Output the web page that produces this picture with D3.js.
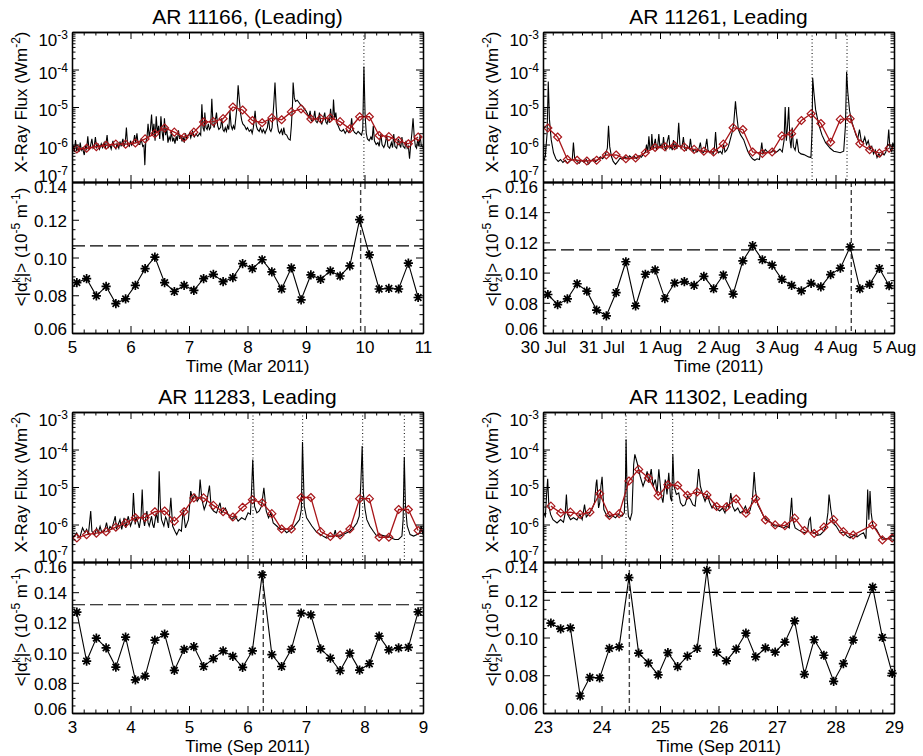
<!DOCTYPE html>
<html>
<head>
<meta charset="utf-8">
<script src="https://cdn.jsdelivr.net/npm/d3@7"></script>
<style>
body { margin:0; background:#fff; }
svg { font-family: "Liberation Sans", Arial, Helvetica, sans-serif; }
</style>
</head>
<body>
<script>
// ---- data ----
var titles = ['AR 11166, (Leading)', 'AR 11261, Leading', 'AR 11283, Leading', 'AR 11302, Leading'];
var xTitles = ['Time (Mar 2011)', 'Time (2011)', 'Time (Sep 2011)', 'Time (Sep 2011)'];
var xLabels11166 = ['5', '6', '7', '8', '9', '10', '11'];
var xLabels11261 = ['30 Jul', '31 Jul', '1 Aug', '2 Aug', '3 Aug', '4 Aug', '5 Aug'];
var xLabels11283 = ['3', '4', '5', '6', '7', '8', '9'];
var xLabels11302 = ['23', '24', '25', '26', '27', '28', '29'];
var fluxTicks = [1e-7, 1e-6, 1e-5, 1e-4, 1e-3];

// GOES flux, [days from panel start, log10 W m^-2]
var flux11166 = [[0.00,-6.25],[0.02,-6.02],[0.04,-6.2],[0.06,-5.88],[0.08,-6.18],[0.10,-6.08],[0.12,-6.2],[0.14,-5.95],[0.16,-6.15],[0.18,-6.1],[0.21,-6.28],[0.23,-6.05],[0.25,-6.12],[0.27,-5.78],[0.29,-6.12],[0.31,-6.08],[0.34,-5.85],[0.36,-6.1],[0.38,-6.05],[0.40,-5.8],[0.42,-6.08],[0.45,-6.0],[0.47,-6.12],[0.50,-5.98],[0.52,-6.08],[0.55,-5.95],[0.57,-6.1],[0.60,-5.75],[0.62,-6.08],[0.65,-6.02],[0.67,-6.12],[0.70,-5.9],[0.72,-6.05],[0.75,-6.12],[0.77,-5.98],[0.80,-6.1],[0.82,-5.92],[0.84,-6.05],[0.87,-5.85],[0.89,-6.05],[0.91,-5.95],[0.93,-5.55],[0.95,-6.0],[0.98,-6.05],[1.00,-5.9],[1.02,-6.02],[1.05,-5.95],[1.07,-5.75],[1.09,-5.95],[1.11,-5.7],[1.13,-5.98],[1.16,-6.0],[1.18,-5.85],[1.21,-6.05],[1.23,-6.02],[1.245,-6.55],[1.26,-5.95],[1.28,-5.85],[1.30,-5.45],[1.32,-5.8],[1.34,-5.6],[1.36,-5.2],[1.38,-5.75],[1.40,-5.45],[1.42,-5.9],[1.44,-5.25],[1.46,-5.7],[1.48,-5.5],[1.50,-5.85],[1.52,-5.25],[1.54,-5.65],[1.56,-5.9],[1.58,-5.3],[1.60,-5.75],[1.62,-5.55],[1.64,-5.95],[1.66,-5.8],[1.68,-5.88],[1.70,-5.65],[1.72,-5.92],[1.74,-5.82],[1.76,-5.98],[1.78,-5.78],[1.80,-5.9],[1.82,-5.62],[1.84,-5.85],[1.86,-5.75],[1.88,-5.92],[1.90,-5.8],[1.92,-5.95],[1.94,-5.7],[1.96,-5.85],[1.98,-5.78],[2.01,-5.7],[2.03,-5.82],[2.06,-5.65],[2.09,-5.8],[2.12,-5.72],[2.15,-5.78],[2.18,-5.7],[2.20,-5.75],[2.22,-4.93],[2.24,-5.55],[2.26,-5.65],[2.27,-5.15],[2.29,-5.55],[2.31,-5.6],[2.33,-5.45],[2.35,-5.6],[2.37,-5.55],[2.39,-4.78],[2.41,-5.45],[2.43,-5.55],[2.45,-5.35],[2.47,-5.15],[2.49,-5.5],[2.51,-5.6],[2.54,-5.55],[2.56,-5.3],[2.58,-5.6],[2.60,-5.65],[2.62,-5.55],[2.64,-5.65],[2.66,-5.5],[2.68,-5.6],[2.70,-5.1],[2.72,-5.5],[2.74,-5.6],[2.76,-5.5],[2.78,-5.6],[2.80,-5.3],[2.82,-5.0],[2.84,-4.42],[2.86,-4.8],[2.88,-5.15],[2.90,-5.35],[2.92,-5.45],[2.95,-5.5],[2.98,-5.6],[3.00,-5.55],[3.03,-5.65],[3.06,-5.6],[3.08,-5.7],[3.10,-5.55],[3.13,-5.1],[3.15,-5.5],[3.17,-5.6],[3.20,-5.65],[3.22,-5.55],[3.25,-5.68],[3.27,-5.6],[3.30,-5.7],[3.32,-5.62],[3.34,-5.55],[3.36,-5.3],[3.38,-5.6],[3.40,-5.65],[3.42,-5.55],[3.45,-4.9],[3.47,-4.35],[3.49,-5.0],[3.51,-5.45],[3.53,-5.65],[3.55,-5.7],[3.58,-5.6],[3.60,-5.75],[3.62,-5.55],[3.64,-5.72],[3.67,-5.75],[3.70,-5.85],[3.73,-5.88],[3.75,-5.5],[3.77,-4.9],[3.78,-4.35],[3.80,-4.75],[3.82,-4.85],[3.85,-4.82],[3.88,-4.88],[3.91,-4.95],[3.94,-4.98],[3.97,-5.05],[4.00,-5.1],[4.03,-5.2],[4.05,-5.28],[4.07,-5.1],[4.09,-5.35],[4.11,-5.38],[4.13,-5.3],[4.15,-5.1],[4.17,-5.38],[4.19,-5.42],[4.21,-5.35],[4.23,-5.15],[4.25,-5.4],[4.27,-5.45],[4.29,-5.35],[4.32,-5.15],[4.34,-5.4],[4.36,-5.45],[4.38,-5.3],[4.40,-5.42],[4.42,-5.05],[4.44,-5.35],[4.46,-5.2],[4.47,-4.8],[4.49,-5.3],[4.51,-5.15],[4.53,-5.45],[4.55,-5.5],[4.58,-5.62],[4.61,-5.65],[4.64,-5.6],[4.67,-5.7],[4.70,-5.62],[4.73,-5.68],[4.76,-5.6],[4.78,-5.3],[4.80,-5.6],[4.83,-5.68],[4.86,-5.72],[4.89,-5.65],[4.92,-5.7],[4.95,-5.75],[4.97,-5.6],[4.99,-3.92],[5.01,-5.2],[5.03,-5.7],[5.05,-5.85],[5.08,-5.9],[5.11,-5.8],[5.13,-5.88],[5.15,-5.5],[5.17,-5.9],[5.20,-6.0],[5.23,-5.95],[5.25,-6.05],[5.28,-5.72],[5.30,-6.0],[5.33,-6.08],[5.35,-6.0],[5.38,-5.75],[5.40,-6.05],[5.43,-6.1],[5.46,-5.95],[5.48,-6.08],[5.50,-5.72],[5.52,-6.05],[5.55,-6.1],[5.58,-5.85],[5.60,-6.0],[5.62,-6.08],[5.64,-5.8],[5.66,-6.05],[5.69,-6.1],[5.71,-5.9],[5.73,-6.1],[5.75,-6.05],[5.77,-6.38],[5.79,-6.0],[5.81,-5.7],[5.83,-5.3],[5.85,-5.8],[5.87,-6.05],[5.89,-6.1],[5.91,-5.85],[5.93,-6.05],[5.95,-5.75],[5.97,-6.02],[6.00,-6.08]];
var flux11261 = [[0.00,-6.49],[0.04,-6.31],[0.07,-5.7],[0.09,-4.32],[0.11,-5.33],[0.14,-5.87],[0.18,-6.22],[0.22,-6.38],[0.26,-6.45],[0.30,-6.4],[0.34,-6.48],[0.38,-6.42],[0.42,-6.5],[0.46,-6.44],[0.50,-6.4],[0.52,-5.95],[0.54,-6.35],[0.58,-6.45],[0.62,-6.5],[0.66,-6.42],[0.70,-6.47],[0.74,-6.4],[0.78,-6.52],[0.82,-6.44],[0.86,-6.38],[0.90,-6.46],[0.94,-6.4],[0.98,-6.33],[1.02,-6.38],[1.06,-6.3],[1.10,-6.1],[1.12,-5.5],[1.14,-6.05],[1.17,-6.32],[1.20,-6.45],[1.24,-6.53],[1.28,-6.45],[1.32,-6.36],[1.36,-6.4],[1.40,-6.33],[1.44,-6.38],[1.48,-6.3],[1.52,-6.36],[1.56,-6.32],[1.60,-6.38],[1.64,-6.3],[1.68,-6.34],[1.72,-6.25],[1.75,-6.2],[1.77,-6.0],[1.79,-6.22],[1.81,-5.78],[1.83,-6.15],[1.85,-6.05],[1.86,-5.72],[1.88,-6.12],[1.90,-6.0],[1.92,-5.85],[1.94,-6.15],[1.96,-6.05],[1.98,-5.72],[2.00,-6.1],[2.02,-6.0],[2.04,-6.12],[2.06,-5.8],[2.08,-6.08],[2.10,-6.15],[2.12,-5.95],[2.15,-5.75],[2.17,-6.1],[2.19,-6.05],[2.21,-6.15],[2.23,-5.88],[2.25,-6.1],[2.27,-6.0],[2.29,-6.12],[2.32,-5.42],[2.34,-6.0],[2.36,-6.1],[2.38,-6.02],[2.40,-5.8],[2.42,-6.1],[2.45,-6.15],[2.47,-6.05],[2.50,-6.12],[2.52,-5.85],[2.54,-6.1],[2.57,-6.18],[2.60,-6.12],[2.63,-6.2],[2.66,-6.15],[2.69,-5.95],[2.71,-6.18],[2.74,-6.22],[2.77,-6.15],[2.80,-5.85],[2.82,-6.15],[2.85,-6.22],[2.88,-6.18],[2.91,-6.25],[2.93,-6.1],[2.95,-5.67],[2.97,-6.12],[3.00,-6.22],[3.03,-6.18],[3.06,-6.25],[3.09,-6.0],[3.11,-6.2],[3.14,-6.15],[3.17,-6.05],[3.20,-5.87],[3.23,-5.7],[3.26,-5.45],[3.29,-4.85],[3.31,-5.2],[3.34,-5.6],[3.38,-5.75],[3.43,-5.87],[3.47,-6.05],[3.50,-6.18],[3.54,-6.3],[3.58,-6.38],[3.62,-6.42],[3.66,-6.38],[3.70,-6.4],[3.72,-6.2],[3.74,-5.95],[3.76,-6.25],[3.80,-6.13],[3.84,-6.2],[3.89,-6.22],[3.93,-6.15],[3.97,-6.22],[4.01,-6.18],[4.05,-6.12],[4.09,-6.2],[4.12,-5.9],[4.14,-5.0],[4.16,-5.9],[4.18,-5.5],[4.20,-5.0],[4.22,-5.85],[4.24,-6.1],[4.26,-5.55],[4.28,-6.05],[4.31,-6.15],[4.34,-5.85],[4.37,-6.2],[4.41,-6.25],[4.46,-6.27],[4.50,-6.3],[4.54,-6.33],[4.58,-6.35],[4.60,-5.6],[4.61,-4.22],[4.63,-4.6],[4.66,-5.07],[4.71,-5.45],[4.77,-5.75],[4.83,-5.95],[4.91,-6.1],[4.97,-6.18],[5.03,-6.2],[5.08,-6.22],[5.14,-6.18],[5.17,-5.5],[5.19,-4.06],[5.21,-4.6],[5.24,-5.1],[5.28,-5.4],[5.31,-5.55],[5.35,-5.75],[5.38,-5.85],[5.41,-5.6],[5.44,-5.9],[5.47,-5.95],[5.50,-5.8],[5.53,-6.0],[5.56,-5.9],[5.59,-6.12],[5.62,-6.05],[5.65,-6.25],[5.68,-6.15],[5.71,-6.35],[5.74,-6.25],[5.77,-6.32],[5.80,-6.22],[5.83,-6.28],[5.86,-6.2],[5.89,-6.0],[5.91,-5.6],[5.93,-6.1],[5.96,-6.18],[5.98,-5.95],[6.00,-6.05]];
var flux11283 = [[0.00,-6.36],[0.04,-6.3],[0.08,-6.22],[0.11,-6.35],[0.14,-6.31],[0.18,-6.09],[0.22,-6.22],[0.25,-6.13],[0.28,-6.27],[0.32,-5.64],[0.34,-6.18],[0.39,-6.27],[0.42,-6.1],[0.45,-6.22],[0.48,-6.05],[0.51,-6.22],[0.56,-6.15],[0.59,-5.95],[0.62,-6.18],[0.65,-6.05],[0.68,-6.12],[0.71,-5.95],[0.74,-5.78],[0.76,-6.13],[0.79,-6.0],[0.82,-5.87],[0.85,-6.13],[0.89,-5.82],[0.92,-6.09],[0.96,-5.78],[1.00,-6.04],[1.03,-5.9],[1.05,-5.16],[1.08,-6.0],[1.10,-5.82],[1.13,-5.95],[1.15,-6.09],[1.18,-5.8],[1.20,-5.07],[1.22,-5.85],[1.24,-6.04],[1.28,-5.64],[1.30,-5.95],[1.32,-6.04],[1.36,-5.78],[1.38,-6.0],[1.40,-6.09],[1.44,-5.69],[1.47,-5.96],[1.49,-4.58],[1.51,-5.5],[1.53,-5.87],[1.57,-6.04],[1.60,-5.8],[1.62,-5.87],[1.65,-6.09],[1.69,-5.29],[1.72,-6.04],[1.76,-6.18],[1.79,-6.27],[1.83,-6.13],[1.87,-6.18],[1.90,-5.6],[1.94,-6.09],[1.99,-5.87],[2.01,-5.5],[2.03,-5.11],[2.06,-5.33],[2.10,-5.2],[2.14,-5.38],[2.17,-5.3],[2.19,-4.8],[2.22,-5.33],[2.26,-5.6],[2.30,-5.42],[2.35,-4.96],[2.38,-5.56],[2.42,-5.64],[2.47,-5.69],[2.53,-5.42],[2.56,-5.69],[2.62,-5.56],[2.67,-5.73],[2.73,-5.87],[2.79,-5.78],[2.84,-5.91],[2.90,-5.82],[2.96,-5.87],[3.01,-5.69],[3.05,-5.73],[3.07,-5.07],[3.09,-4.27],[3.12,-5.51],[3.16,-5.69],[3.20,-5.64],[3.24,-5.51],[3.28,-5.02],[3.32,-5.64],[3.36,-5.82],[3.40,-5.69],[3.44,-5.96],[3.50,-6.04],[3.56,-6.13],[3.61,-6.12],[3.67,-6.22],[3.73,-6.15],[3.78,-6.09],[3.84,-5.97],[3.89,-5.87],[3.92,-5.6],[3.94,-3.8],[3.97,-5.51],[4.01,-5.82],[4.10,-6.04],[4.18,-6.2],[4.27,-6.29],[4.35,-6.36],[4.41,-6.31],[4.47,-6.33],[4.50,-6.15],[4.52,-6.31],[4.58,-6.31],[4.67,-6.24],[4.75,-6.18],[4.81,-6.09],[4.87,-5.96],[4.91,-5.78],[4.94,-4.8],[4.96,-3.91],[4.98,-5.16],[5.01,-5.6],[5.04,-5.87],[5.09,-6.04],[5.15,-6.18],[5.21,-6.31],[5.26,-6.27],[5.35,-6.31],[5.41,-6.31],[5.46,-6.36],[5.52,-6.4],[5.58,-6.4],[5.64,-6.31],[5.66,-5.87],[5.68,-4.2],[5.70,-5.51],[5.73,-6.04],[5.78,-6.27],[5.84,-6.31],[5.90,-6.27],[5.94,-6.22],[5.97,-6.04],[6.00,-6.27]];
var flux11302 = [[0.01,-5.69],[0.04,-5.78],[0.06,-5.24],[0.08,-4.78],[0.10,-5.51],[0.13,-5.73],[0.17,-5.87],[0.24,-5.96],[0.30,-5.87],[0.35,-5.94],[0.38,-5.69],[0.40,-5.2],[0.42,-5.73],[0.47,-5.87],[0.52,-5.82],[0.58,-5.88],[0.63,-5.73],[0.67,-5.87],[0.71,-5.47],[0.74,-5.8],[0.80,-5.69],[0.84,-5.58],[0.88,-5.42],[0.91,-4.89],[0.92,-4.8],[0.95,-5.56],[0.97,-5.42],[0.99,-4.98],[1.01,-4.73],[1.04,-5.6],[1.08,-5.73],[1.12,-5.8],[1.18,-5.76],[1.24,-5.82],[1.29,-5.73],[1.35,-5.78],[1.39,-5.69],[1.41,-4.8],[1.42,-3.73],[1.44,-5.33],[1.46,-5.78],[1.49,-5.87],[1.52,-5.69],[1.55,-4.4],[1.57,-4.13],[1.61,-4.36],[1.66,-4.71],[1.71,-4.98],[1.75,-4.8],[1.78,-4.58],[1.81,-4.89],[1.85,-4.52],[1.88,-4.98],[1.92,-4.8],[1.95,-5.16],[1.98,-4.53],[2.02,-5.2],[2.05,-5.42],[2.09,-4.8],[2.12,-5.2],[2.15,-4.62],[2.18,-5.29],[2.20,-5.38],[2.22,-4.13],[2.24,-4.98],[2.28,-5.2],[2.32,-5.16],[2.35,-5.42],[2.39,-5.51],[2.43,-5.47],[2.47,-5.24],[2.52,-5.33],[2.56,-5.47],[2.60,-5.51],[2.63,-5.07],[2.66,-4.52],[2.69,-4.98],[2.73,-5.2],[2.77,-5.38],[2.81,-5.2],[2.85,-5.42],[2.89,-5.56],[2.93,-5.44],[2.97,-5.58],[3.02,-5.64],[3.07,-5.56],[3.11,-5.69],[3.15,-5.44],[3.18,-5.56],[3.21,-5.16],[3.24,-5.51],[3.28,-5.64],[3.33,-5.56],[3.37,-5.69],[3.42,-5.64],[3.46,-5.51],[3.50,-5.69],[3.54,-5.62],[3.58,-5.33],[3.61,-4.6],[3.63,-5.07],[3.67,-5.47],[3.72,-5.62],[3.77,-5.78],[3.83,-5.88],[3.89,-5.94],[3.95,-6.04],[4.00,-6.03],[4.06,-6.06],[4.11,-6.09],[4.17,-6.04],[4.21,-6.09],[4.23,-5.69],[4.25,-5.29],[4.27,-5.87],[4.31,-6.09],[4.37,-6.15],[4.43,-6.2],[4.48,-6.22],[4.52,-6.18],[4.55,-5.87],[4.57,-5.82],[4.59,-6.18],[4.64,-6.22],[4.68,-6.29],[4.74,-6.27],[4.80,-6.18],[4.84,-6.04],[4.87,-5.69],[4.89,-5.2],[4.92,-5.6],[4.96,-5.96],[5.01,-6.04],[5.08,-6.22],[5.14,-6.2],[5.20,-6.31],[5.25,-6.36],[5.31,-6.29],[5.37,-6.33],[5.42,-6.27],[5.48,-6.22],[5.52,-6.38],[5.54,-5.6],[5.55,-5.07],[5.57,-5.87],[5.59,-5.11],[5.61,-5.69],[5.64,-6.04],[5.70,-6.13],[5.76,-6.31],[5.81,-6.36],[5.87,-6.38],[5.92,-6.38],[5.95,-6.31],[5.99,-6.27]];

// 4-hour averaged flux (log10) and mean |alpha_z|, one value per 4 h slot
var avg11166 = [-6.12,-6.10,-6.06,-6.02,-5.99,-5.99,-5.96,-5.85,-5.71,-5.56,-5.67,-5.81,-5.67,-5.40,-5.39,-5.31,-5.00,-5.08,-5.36,-5.42,-5.29,-5.34,-5.13,-5.05,-5.32,-5.31,-5.29,-5.39,-5.58,-5.26,-5.26,-5.76,-5.79,-5.90,-5.98,-5.80];
var avg11261 = [-5.56,-5.80,-6.40,-6.42,-6.44,-6.42,-6.28,-6.28,-6.38,-6.36,-6.22,-6.08,-6.06,-6.03,-6.07,-6.13,-6.18,-6.20,-5.99,-5.55,-5.60,-6.20,-6.24,-6.20,-5.77,-5.71,-5.36,-5.18,-5.44,-5.94,-5.33,-5.31,-5.98,-6.14,-6.23,-6.10];
var avg11283 = [-6.36,-6.27,-6.23,-6.19,-6.07,-5.96,-5.82,-5.81,-5.66,-5.64,-5.91,-5.66,-5.29,-5.29,-5.49,-5.66,-5.80,-5.54,-5.34,-5.42,-5.71,-6.12,-6.12,-5.28,-5.28,-6.19,-6.32,-6.28,-6.12,-5.31,-5.31,-6.34,-6.34,-5.60,-5.60,-6.16];
var avg11302 = [-5.51,-5.69,-5.67,-5.73,-5.67,-5.18,-5.76,-5.71,-4.84,-4.53,-4.76,-5.23,-4.94,-4.96,-5.22,-5.13,-5.21,-5.52,-5.53,-5.32,-5.70,-5.31,-5.88,-6.01,-6.03,-5.83,-6.16,-6.24,-6.07,-5.87,-6.19,-6.28,null,-6.01,-6.41,-6.36];
var alpha11166 = [0.0867,0.0888,0.0797,0.0847,0.0756,0.0781,0.0852,0.0941,0.1002,0.0867,0.0820,0.0852,0.0826,0.0888,0.0911,0.0872,0.0893,0.0968,0.0941,0.0988,0.0924,0.0833,0.0945,0.0776,0.0908,0.0884,0.0929,0.0902,0.0956,0.1201,0.1014,0.0833,0.0836,0.0833,0.0970,0.0788];
var alpha11261 = [0.0855,0.0788,0.0826,0.0926,0.0877,0.0752,0.0714,0.0868,0.1072,0.0779,0.0989,0.1018,0.0828,0.0931,0.0940,0.0915,0.0975,0.0893,0.0984,0.0857,0.1078,0.1179,0.1085,0.1049,0.0955,0.0915,0.0879,0.0928,0.0906,0.0987,0.1029,0.1170,0.0893,0.0922,0.1027,0.0913];
var alpha11283 = [0.1268,0.0944,0.1096,0.1031,0.0904,0.1103,0.0820,0.0844,0.1082,0.1123,0.0882,0.1022,0.1040,0.0908,0.0960,0.1011,0.0975,0.0902,0.1011,0.1515,0.0987,0.0908,0.1022,0.1261,0.1250,0.1025,0.0964,0.0880,0.0996,0.0884,0.0926,0.1109,0.1018,0.1031,0.1034,0.1270];
var alpha11302 = [0.1076,0.1046,0.1051,0.0690,0.0789,0.0786,0.0942,0.0950,0.1317,0.0917,0.0865,0.0802,0.0920,0.0846,0.0901,0.0942,0.1356,0.0922,0.0876,0.0938,0.1023,0.0897,0.0945,0.0922,0.0975,0.1088,0.0805,0.0988,0.0906,0.0768,0.0862,0.0986,null,0.1267,0.1000,0.0810];
var slotStart = [0.083, 0.083, 0.083, 0.135];   // first slot, days from panel start
var threshold = [0.1062, 0.1150, 0.1317, 0.1239];
var alphaMax = [0.14, 0.16, 0.16, 0.14];
var alphaPeakTime = [4.934, 5.27, 3.27, 1.476];
var flareTimes = [[4.99], [4.60, 5.197], [3.094, 3.943, 4.969, 5.681], [1.419, 2.217]];

// ---- layout ----
var svg = d3.select('body').append('svg').attr('width', 923).attr('height', 756);
svg.append('rect').attr('width', 923).attr('height', 756).attr('fill', '#fff');
var colX = [72, 543], rowY = [32, 412];
var pw = 351, fh = 150, ah = 151;
var red = '#a8161a';
var star = 'M-4.6,0H4.6M0,-4.6V4.6M-3.3,-3.3L3.3,3.3M-3.3,3.3L3.3,-3.3';
var diamond = 'M0,-4L4,0L0,4L-4,0Z';

var panels = [
    {col:0, row:0, flux:flux11166, avg:avg11166, alpha:alpha11166, xl:xLabels11166, minor:0.2},
    {col:1, row:0, flux:flux11261, avg:avg11261, alpha:alpha11261, xl:xLabels11261, minor:1/6},
    {col:0, row:1, flux:flux11283, avg:avg11283, alpha:alpha11283, xl:xLabels11283, minor:0.2},
    {col:1, row:1, flux:flux11302, avg:avg11302, alpha:alpha11302, xl:xLabels11302, minor:0.2}
];

function clean(a){
    a.attr('font-family', null).attr('font-size', null);
    a.select('.domain').attr('stroke', '#000').attr('stroke-width', 1.3);
    a.selectAll('.tick line').attr('stroke', '#000').attr('stroke-width', 1);
    a.selectAll('.tick text').attr('fill', '#000').attr('font-size', 17);
    return a;
}
// tick-only axis (no labels)
function ticks(g, gen, vals, size, tx, ty){
    var a = g.append('g').attr('transform', 'translate(' + tx + ',' + ty + ')')
        .call(gen.tickValues(vals).tickSize(size).tickSizeOuter(0).tickFormat(''));
    a.selectAll('.tick text').remove();
    return clean(a);
}

panels.forEach(function(p, k){
    var g = svg.append('g').attr('transform', 'translate(' + colX[p.col] + ',' + rowY[p.row] + ')');
    var x  = d3.scaleLinear().domain([0, 6]).range([0, pw]);
    var yF = d3.scaleLog().domain([1e-7, 1e-3]).range([fh, 0]);
    var yA = d3.scaleLinear().domain([0.06, alphaMax[k]]).range([fh + ah, fh]);
    var slots = p.alpha.map(function(v, i){ return slotStart[k] + i / 6; });

    var xMaj = d3.range(0, 7);
    var xMin = d3.range(0, 6.001, p.minor).filter(function(v){ return Math.abs(v - Math.round(v)) > 1e-6; });
    var logMin = [];
    [-7, -6, -5, -4].forEach(function(e){ d3.range(2, 10).forEach(function(m){ logMin.push(m * Math.pow(10, e)); }); });
    var aMaj = d3.range(0.06, alphaMax[k] + 0.001, 0.02);
    var aMin = d3.range(0.065, alphaMax[k], 0.005).filter(function(v){ return Math.abs(v / 0.02 - Math.round(v / 0.02)) > 1e-6; });

    // flux curve
    var cid = 'clip' + k;
    g.append('clipPath').attr('id', cid).append('rect').attr('width', pw).attr('height', fh);
    var plot = g.append('g').attr('clip-path', 'url(#' + cid + ')');
    plot.append('path').datum(p.flux)
        .attr('fill', 'none').attr('stroke', '#000').attr('stroke-width', 1.1)
        .attr('d', d3.line().x(function(d){ return x(d[0]); }).y(function(d){ return yF(Math.pow(10, d[1])); }));

    var avg = slots.map(function(t, i){ return [t, p.avg[i]]; }).filter(function(d){ return d[1] != null; });
    plot.append('path').datum(avg)
        .attr('fill', 'none').attr('stroke', red).attr('stroke-width', 1.3)
        .attr('d', d3.line().x(function(d){ return x(d[0]); }).y(function(d){ return yF(Math.pow(10, d[1])); }));
    plot.selectAll('path.dia').data(avg).enter().append('path').attr('class', 'dia')
        .attr('d', diamond).attr('fill', 'none').attr('stroke', red).attr('stroke-width', 1.2)
        .attr('transform', function(d){ return 'translate(' + x(d[0]) + ',' + yF(Math.pow(10, d[1])) + ')'; });

    flareTimes[k].forEach(function(t){
        g.append('line').attr('x1', x(t)).attr('x2', x(t)).attr('y1', 0).attr('y2', fh)
            .attr('stroke', '#000').attr('stroke-width', 1).attr('stroke-dasharray', '1,2.5');
    });

    // alpha curve
    var al = slots.map(function(t, i){ return [t, p.alpha[i]]; }).filter(function(d){ return d[1] != null; });
    g.append('line').attr('x1', 0).attr('x2', pw).attr('y1', yA(threshold[k])).attr('y2', yA(threshold[k]))
        .attr('stroke', '#000').attr('stroke-width', 1.2).attr('stroke-dasharray', '13,5');
    g.append('line').attr('x1', x(alphaPeakTime[k])).attr('x2', x(alphaPeakTime[k])).attr('y1', fh).attr('y2', fh + ah)
        .attr('stroke', '#444').attr('stroke-width', 1.4).attr('stroke-dasharray', '5,3');
    g.append('path').datum(al)
        .attr('fill', 'none').attr('stroke', '#000').attr('stroke-width', 1.1)
        .attr('d', d3.line().x(function(d){ return x(d[0]); }).y(function(d){ return yA(d[1]); }));
    g.selectAll('path.star').data(al).enter().append('path').attr('class', 'star')
        .attr('d', star).attr('stroke', '#000').attr('stroke-width', 1.7)
        .attr('transform', function(d){ return 'translate(' + x(d[0]) + ',' + yA(d[1]) + ')'; });

    // frames and ticks, all pointing inward
    ticks(g, d3.axisTop(x), xMaj, -7, 0, 0);
    ticks(g, d3.axisTop(x), xMin, -3.5, 0, 0);
    ticks(g, d3.axisBottom(x), xMaj, -7, 0, fh);
    ticks(g, d3.axisBottom(x), xMin, -3.5, 0, fh);
    ticks(g, d3.axisTop(x), xMaj, -7, 0, fh);
    ticks(g, d3.axisTop(x), xMin, -3.5, 0, fh);
    ticks(g, d3.axisBottom(x), xMin, -3.5, 0, fh + ah);
    ticks(g, d3.axisLeft(yF), logMin, -3.5, 0, 0);
    ticks(g, d3.axisRight(yF), fluxTicks, -7, pw, 0);
    ticks(g, d3.axisRight(yF), logMin, -3.5, pw, 0);
    ticks(g, d3.axisLeft(yA), aMin, -3.5, 0, 0);
    ticks(g, d3.axisRight(yA), aMaj, -7, pw, 0);
    ticks(g, d3.axisRight(yA), aMin, -3.5, pw, 0);

    // labelled axes
    var fl = clean(g.append('g').call(d3.axisLeft(yF).tickValues(fluxTicks).tickSize(-7).tickSizeOuter(0).tickPadding(4).tickFormat('')));
    fl.selectAll('.tick text').each(function(d, i){
        var t = d3.select(this).attr('dy', null).attr('y', i == 0 ? -1 : i == 4 ? 13 : 8.5);
        t.append('tspan').text('10');
        t.append('tspan').attr('dy', -7).attr('font-size', 12).text(Math.round(Math.log10(d)));
    });
    var ya = clean(g.append('g').call(d3.axisLeft(yA).tickValues(aMaj).tickSize(-7).tickSizeOuter(0).tickPadding(5).tickFormat(d3.format('.2f'))));
    ya.selectAll('.tick text').attr('dy', null).attr('y', function(d, i){ return i == 0 ? 1 : i == aMaj.length - 1 ? 10 : 6.5; });
    var xa = clean(g.append('g').attr('transform', 'translate(0,' + (fh + ah) + ')')
        .call(d3.axisBottom(x).tickValues(xMaj).tickSize(-7).tickSizeOuter(0).tickFormat(function(d, i){ return p.xl[i]; })));
    xa.selectAll('.tick text').attr('dy', null).attr('y', 20);

    // titles
    g.append('text').attr('x', pw / 2).attr('y', -8).attr('text-anchor', 'middle').attr('font-size', 21).text(titles[k]);
    g.append('text').attr('x', pw / 2).attr('y', fh + ah + 39).attr('text-anchor', 'middle').attr('font-size', 17).text(xTitles[k]);

    var t1 = g.append('text').attr('transform', 'translate(-45,' + 70 + ') rotate(-90)')
        .attr('text-anchor', 'middle').attr('font-size', 17);
    t1.append('tspan').text('X-Ray Flux (Wm');
    t1.append('tspan').attr('dy', -7).attr('font-size', 12).text('-2');
    t1.append('tspan').attr('dy', 7).text(')');

    var t2 = g.append('text').attr('transform', 'translate(-45,' + 215 + ') rotate(-90)')
        .attr('text-anchor', 'middle').attr('font-size', 17);
    t2.append('tspan').text('<|α');
    t2.append('tspan').attr('dy', 4).attr('font-size', 11).text('z');
    t2.append('tspan').attr('dx', -6).attr('dy', -11).attr('font-size', 11).text('k');
    t2.append('tspan').attr('dy', 7).text('|> (10');
    t2.append('tspan').attr('dy', -7).attr('font-size', 12).text('-5');
    t2.append('tspan').attr('dy', 7).text(' m');
    t2.append('tspan').attr('dy', -7).attr('font-size', 12).text('-1');
    t2.append('tspan').attr('dy', 7).text(')');
});
</script>
</body>
</html>
